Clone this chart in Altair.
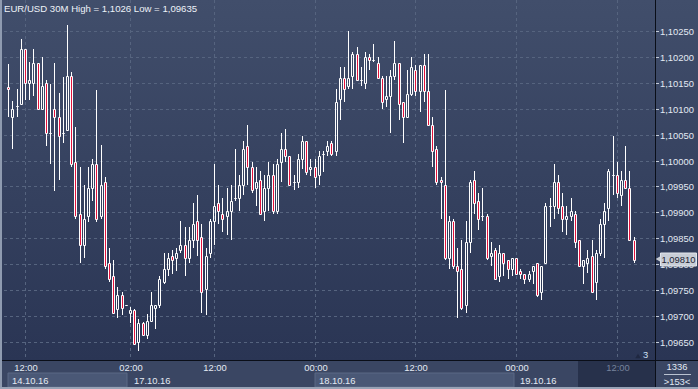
import altair as alt
import pandas as pd

# ---------------- data ----------------
title_text = "EUR/USD 30M High = 1,1026 Low = 1,09635"

opens = [1.10141, 1.10083, 1.10104, 1.10109, 1.10215, 1.10149, 1.10149, 1.10188, 1.10099, 1.10149,
         1.10053, 1.10099, 1.10083, 1.10053, 1.10059, 1.10163, 1.09997, 1.09897, 1.09838, 1.09893,
         1.09947, 1.09994, 1.09893, 1.09958, 1.09803, 1.09778, 1.09714, 1.09742, 1.09722, 1.09707,
         1.09713, 1.09651, 1.09688, 1.09664, 1.09692, 1.09717, 1.09722, 1.09766, 1.09792, 1.09817,
         1.09813, 1.09828, 1.09838, 1.09813, 1.09847, 1.09883, 1.09853, 1.09753, 1.09822, 1.09883,
         1.09918, 1.09897, 1.09893, 1.09903, 1.09928, 1.09928, 1.09953, 1.10028, 1.09988, 1.09947,
         1.09963, 1.09903, 1.09947, 1.09973, 1.09903, 1.09998, 1.10023, 1.10008, 1.09958, 1.09958,
         1.10003, 1.10038, 1.09984, 1.09988, 1.09973, 1.10013, 1.10018, 1.10033, 1.10018, 1.10118,
         1.10159, 1.10143, 1.10163, 1.10204, 1.10154, 1.10149, 1.10199, 1.10194, 1.10188, 1.10159,
         1.10119, 1.10124, 1.10163, 1.10188, 1.10113, 1.10083, 1.10128, 1.10174, 1.10133, 1.10184,
         1.10133, 1.10069, 1.10023, 1.09963, 1.09953, 1.09813, 1.09883, 1.09797, 1.09792, 1.09722,
         1.09843, 1.09963, 1.09923, 1.09893, 1.09893, 1.09817, 1.09828, 1.09777, 1.09822, 1.09808,
         1.09792, 1.09813, 1.09787, 1.09782, 1.09772, 1.09787, 1.09803, 1.09747, 1.09803, 1.09913,
         1.09913, 1.09958, 1.09913, 1.09888, 1.09893, 1.09897, 1.09847, 1.09797, 1.09803, 1.09817,
         1.09767, 1.09822, 1.09878, 1.09908, 1.09973, 1.09973, 1.09933, 1.09963, 1.09947, 1.09847]
highs = [1.10186, 1.10114, 1.10138, 1.10234, 1.10215, 1.10189, 1.10215, 1.10188, 1.10200, 1.10154,
         1.10147, 1.10188, 1.10129, 1.10160, 1.10260, 1.10170, 1.10064, 1.09987, 1.09953, 1.09988,
         1.10003, 1.10135, 1.10029, 1.09969, 1.09832, 1.09808, 1.09756, 1.09748, 1.09722, 1.09718,
         1.09715, 1.09696, 1.09689, 1.09705, 1.09748, 1.09722, 1.09777, 1.09822, 1.09822, 1.09828,
         1.09831, 1.09883, 1.09873, 1.09873, 1.09919, 1.09933, 1.09878, 1.09832, 1.09888, 1.09994,
         1.09953, 1.09928, 1.09947, 1.09953, 1.10023, 1.09973, 1.10038, 1.10069, 1.09998, 1.09988,
         1.09979, 1.09973, 1.09998, 1.09994, 1.10003, 1.10053, 1.10060, 1.10008, 1.09973, 1.10013,
         1.10048, 1.10038, 1.10003, 1.10003, 1.10018, 1.10018, 1.10038, 1.10038, 1.10138, 1.10179,
         1.10179, 1.10250, 1.10209, 1.10219, 1.10179, 1.10209, 1.10204, 1.10224, 1.10199, 1.10163,
         1.10163, 1.10174, 1.10229, 1.10188, 1.10113, 1.10174, 1.10200, 1.10184, 1.10184, 1.10204,
         1.10204, 1.10083, 1.10028, 1.09968, 1.10135, 1.09893, 1.09888, 1.09832, 1.09847, 1.09883,
         1.09963, 1.09979, 1.09938, 1.09947, 1.09897, 1.09843, 1.09832, 1.09838, 1.09822, 1.09808,
         1.09813, 1.09813, 1.09792, 1.09782, 1.09787, 1.09797, 1.09803, 1.09797, 1.09919, 1.09928,
         1.09994, 1.09973, 1.09938, 1.09913, 1.09928, 1.09903, 1.09847, 1.09808, 1.09828, 1.09847,
         1.09827, 1.09888, 1.09918, 1.09984, 1.10048, 1.09998, 1.09979, 1.10028, 1.09979, 1.09853]
lows = [1.10083, 1.10022, 1.10083, 1.10106, 1.10117, 1.10117, 1.10124, 1.10097, 1.10097, 1.10027,
        1.09994, 1.09942, 1.09962, 1.10033, 1.10058, 1.09987, 1.09888, 1.09803, 1.09812, 1.09881,
        1.09923, 1.09881, 1.09888, 1.09792, 1.09766, 1.09705, 1.09697, 1.09702, 1.09722, 1.09687,
        1.09647, 1.09633, 1.09662, 1.09657, 1.09689, 1.09676, 1.09717, 1.09763, 1.09777, 1.09782,
        1.09787, 1.09822, 1.09777, 1.09803, 1.09832, 1.09817, 1.09707, 1.09703, 1.09813, 1.09837,
        1.09878, 1.09862, 1.09857, 1.09847, 1.09923, 1.09903, 1.09933, 1.09953, 1.09937, 1.09913,
        1.09897, 1.09883, 1.09903, 1.09897, 1.09897, 1.09958, 1.09998, 1.09953, 1.09944, 1.09947,
        1.09984, 1.09973, 1.09971, 1.09947, 1.09953, 1.09978, 1.10008, 1.10008, 1.10008, 1.10078,
        1.10113, 1.10138, 1.10138, 1.10152, 1.10143, 1.10138, 1.10174, 1.10189, 1.10159, 1.10099,
        1.10103, 1.10053, 1.10154, 1.10078, 1.10033, 1.10083, 1.10124, 1.10124, 1.10093, 1.10113,
        1.10069, 1.09988, 1.09953, 1.09888, 1.09808, 1.09792, 1.09792, 1.09697, 1.09712, 1.09707,
        1.09822, 1.09897, 1.09867, 1.09883, 1.09808, 1.09797, 1.09772, 1.09767, 1.09777, 1.09772,
        1.09777, 1.09782, 1.09772, 1.09763, 1.09767, 1.09763, 1.09737, 1.09732, 1.09801, 1.09873,
        1.09888, 1.09897, 1.09862, 1.09857, 1.09883, 1.09832, 1.09797, 1.09763, 1.09784, 1.09747,
        1.09732, 1.09817, 1.09813, 1.09883, 1.09933, 1.09928, 1.09913, 1.09947, 1.09847, 1.09803]
closes = [1.10138, 1.10099, 1.10104, 1.10215, 1.10149, 1.10154, 1.10188, 1.10099, 1.10144, 1.10053,
          1.10053, 1.10083, 1.10047, 1.10053, 1.10163, 1.09994, 1.09893, 1.09838, 1.09888, 1.09947,
          1.09994, 1.09888, 1.09953, 1.09797, 1.09772, 1.09707, 1.09742, 1.09717, 1.09722, 1.09713,
          1.09647, 1.09688, 1.09664, 1.09692, 1.09722, 1.09722, 1.09772, 1.09792, 1.09813, 1.09808,
          1.09822, 1.09838, 1.09813, 1.09847, 1.09878, 1.09847, 1.09748, 1.09817, 1.09883, 1.09913,
          1.09903, 1.09888, 1.09903, 1.09923, 1.09928, 1.09953, 1.10023, 1.09988, 1.09944, 1.09958,
          1.09897, 1.09947, 1.09973, 1.09903, 1.09994, 1.10023, 1.10008, 1.09953, 1.09958, 1.10003,
          1.10038, 1.09978, 1.09988, 1.09968, 1.10008, 1.10013, 1.10028, 1.10013, 1.10113, 1.10159,
          1.10138, 1.10159, 1.10204, 1.10154, 1.10154, 1.10199, 1.10194, 1.10194, 1.10159, 1.10113,
          1.10124, 1.10163, 1.10188, 1.10109, 1.10083, 1.10128, 1.10179, 1.10133, 1.10184, 1.10133,
          1.10069, 1.10018, 1.09958, 1.09958, 1.09813, 1.09883, 1.09797, 1.09787, 1.09717, 1.09843,
          1.09958, 1.09918, 1.09888, 1.09893, 1.09813, 1.09822, 1.09772, 1.09822, 1.09803, 1.09792,
          1.09813, 1.09782, 1.09782, 1.09772, 1.09782, 1.09797, 1.09742, 1.09797, 1.09913, 1.09913,
          1.09958, 1.09908, 1.09888, 1.09893, 1.09903, 1.09843, 1.09797, 1.09808, 1.09813, 1.09748,
          1.09822, 1.09878, 1.09903, 1.09979, 1.09973, 1.09938, 1.09963, 1.09947, 1.09847, 1.09808]

price_ticks = [1.0965, 1.0970, 1.0975, 1.0980, 1.0985, 1.0990, 1.0995,
               1.1000, 1.1005, 1.1010, 1.1015, 1.1020, 1.1025]
price_labels = ["1,09650", "1,09700", "1,09750", "1,09800", "1,09850", "1,09900", "1,09950",
                "1,10000", "1,10050", "1,10100", "1,10150", "1,10200", "1,10250"]

time_tick_idx = [5, 30, 50, 74, 98, 122, 146]
time_tick_labels = ["12:00", "02:00", "12:00", "00:00", "12:00", "00:00", "12:00"]
day_start_idx = [1, 30, 74, 122]
day_labels = ["14.10.16", "17.10.16", "18.10.16", "19.10.16"]

last_price = 1.09810
last_price_label = "1,09810"
corner_top = "1336"
corner_bottom = ">153<"
marker_count = "3"

# ---------------- styling ----------------
FONT = "Liberation Sans"
FS = 9.4
RED = "#e3123c"
TXT = "#e4eaf3"
GRID = "#56647f"

n = len(opens)
df = pd.DataFrame({"i": list(range(1, n + 1)), "open": opens, "high": highs,
                   "low": lows, "close": closes})
df["fill"] = [RED if c < o else "transparent" for o, c in zip(opens, closes)]

W, H = 652, 360
xs = alt.Scale(domain=[0.93, 153.92], round=True)
ys = alt.Scale(domain=[1.096163, 1.103087], zero=False, nice=False, round=True)


def grad(c1, c2):
    return alt.LinearGradient(gradient="linear",
                              stops=[alt.GradientStop(color=c1, offset=0),
                                     alt.GradientStop(color=c2, offset=1)],
                              x1=0, x2=0, y1=0, y2=1)


one = pd.DataFrame({"k": [0]})

bg = alt.Chart(one).mark_rect(fill=grad("#414e6b", "#2a3554")).encode(
    x=alt.value(-3), x2=alt.value(695), y=alt.value(0), y2=alt.value(360))
strip = alt.Chart(one).mark_rect(fill="#3a4663").encode(
    x=alt.value(-3), x2=alt.value(695), y=alt.value(360), y2=alt.value(389))

box_df = pd.DataFrame({"s": [day_start_idx[0], day_start_idx[2]],
                       "e": [day_start_idx[1] - 0.6, day_start_idx[3] - 0.6]})
day_boxes = alt.Chart(box_df).mark_rect(fill="#4a5876", stroke="#5b6985", strokeWidth=1).encode(
    x=alt.X("s:Q", scale=xs, axis=None), x2="e:Q", y=alt.value(373), y2=alt.value(387))
dark_box = alt.Chart(one).mark_rect(fill="#27314b").encode(
    x=alt.value(575), x2=alt.value(652), y=alt.value(361), y2=alt.value(387))

pt_df = pd.DataFrame({"p": price_ticks, "lab": price_labels})
hgrid = alt.Chart(pt_df).mark_rule(stroke=GRID, strokeDash=[3, 3], strokeWidth=1, yOffset=0.5).encode(
    y=alt.Y("p:Q", scale=ys, axis=None))
tt_df = pd.DataFrame({"i": time_tick_idx, "lab": time_tick_labels,
                      "col": [TXT] * (len(time_tick_idx) - 1) + ["#76839c"]})
vgrid = alt.Chart(tt_df).mark_rule(stroke=GRID, strokeDash=[3, 3], strokeWidth=1, xOffset=0.5).encode(
    x=alt.X("i:Q", scale=xs, axis=None), y=alt.value(0), y2=alt.value(360))

base = alt.Chart(df).transform_calculate(
    top="max(datum.open, datum.close)", bot="min(datum.open, datum.close)")
wick_hi = base.mark_rule(color="white", strokeWidth=1, xOffset=0.5).encode(
    x=alt.X("i:Q", scale=xs, axis=None), y=alt.Y("high:Q", scale=ys, axis=None), y2="top:Q")
wick_lo = base.mark_rule(color="white", strokeWidth=1, xOffset=0.5).encode(
    x=alt.X("i:Q", scale=xs, axis=None), y=alt.Y("bot:Q", scale=ys, axis=None), y2="low:Q")
bodies = base.mark_bar(width=2, stroke="white", strokeWidth=1, xOffset=0.5,
                       yOffset=0.5, y2Offset=0.5).encode(
    x=alt.X("i:Q", scale=xs, axis=None), y=alt.Y("top:Q", scale=ys, axis=None), y2="bot:Q",
    fill=alt.Fill("fill:N", scale=None))

hline = alt.Chart(one).mark_rule(stroke="#0a0e18", strokeWidth=1).encode(
    y=alt.value(360.5), x=alt.value(-3), x2=alt.value(695))
vline = alt.Chart(one).mark_rule(stroke="#0a0e18", strokeWidth=1).encode(
    x=alt.value(652.5), y=alt.value(0), y2=alt.value(389))
left_border = alt.Chart(one).mark_rect(fill="#8f9bb0").encode(
    x=alt.value(-3), x2=alt.value(-1), y=alt.value(0), y2=alt.value(389))
bottom_border = alt.Chart(one).mark_rect(fill="#98a3b6").encode(
    x=alt.value(-3), x2=alt.value(695), y=alt.value(387), y2=alt.value(389))

rticks = alt.Chart(pt_df).mark_rule(stroke="#c3cbd8", strokeWidth=1, yOffset=0.5).encode(
    y=alt.Y("p:Q", scale=ys, axis=None), x=alt.value(653), x2=alt.value(656))
ylabels = alt.Chart(pt_df).mark_text(align="left", baseline="middle", font=FONT, fontSize=FS,
                                     color=TXT, dy=0.5).encode(
    y=alt.Y("p:Q", scale=ys, axis=None), x=alt.value(657), text="lab:N")

tag_df = pd.DataFrame({"p": [last_price], "lab": [last_price_label]})
tag_box = alt.Chart(tag_df).mark_rect(fill="#c8cdd6", stroke="#e2e6ec", strokeWidth=1,
                                      yOffset=-6, y2Offset=7).encode(
    y=alt.Y("p:Q", scale=ys, axis=None), y2="p:Q", x=alt.value(657.5), x2=alt.value(693.5))
tag_arrow = alt.Chart(tag_df).mark_point(shape="triangle-left", filled=True, size=28,
                                         color="#c8cdd6", opacity=1).encode(
    y=alt.Y("p:Q", scale=ys, axis=None), x=alt.value(655))
tag_text = alt.Chart(tag_df).mark_text(align="left", baseline="middle", font=FONT, fontSize=FS,
                                       color="#1b2233", dy=0.5).encode(
    y=alt.Y("p:Q", scale=ys, axis=None), x=alt.value(658.5), text="lab:N")

title = alt.Chart(one).mark_text(align="left", baseline="alphabetic", font=FONT, fontSize=9.6,
                                 color="#eef2f8").encode(
    x=alt.value(1), y=alt.value(12), text=alt.value(title_text))

tlabels = alt.Chart(tt_df).mark_text(align="center", baseline="middle", font=FONT, fontSize=FS,
                                     dx=1).encode(
    x=alt.X("i:Q", scale=xs, axis=None), y=alt.value(368), text="lab:N",
    color=alt.Color("col:N", scale=None))
dd_df = pd.DataFrame({"i": day_start_idx, "lab": day_labels})
dlabels = alt.Chart(dd_df).mark_text(align="left", baseline="middle", font=FONT, fontSize=FS,
                                     dx=4, color=TXT).encode(
    x=alt.X("i:Q", scale=xs, axis=None), y=alt.value(380.5), text="lab:N")

c_top = alt.Chart(one).mark_text(align="center", baseline="middle", font=FONT, fontSize=FS,
                                 color=TXT).encode(x=alt.value(674), y=alt.value(367),
                                                   text=alt.value(corner_top))
c_line = alt.Chart(one).mark_rule(stroke="#b9c2d0", strokeWidth=1).encode(
    y=alt.value(374.5), x=alt.value(661), x2=alt.value(688))
c_bot = alt.Chart(one).mark_text(align="center", baseline="middle", font=FONT, fontSize=FS,
                                 color=TXT).encode(x=alt.value(674), y=alt.value(381.5),
                                                   text=alt.value(corner_bottom))
m_tri = alt.Chart(one).mark_point(shape="triangle-up", filled=True, size=30, color="#1f2841",
                                  opacity=1).encode(x=alt.value(635), y=alt.value(356))
m_txt = alt.Chart(one).mark_text(align="left", baseline="middle", font=FONT, fontSize=FS,
                                 color="#cfe0f5").encode(x=alt.value(640), y=alt.value(355),
                                                         text=alt.value(marker_count))

chart = alt.layer(
    bg, strip, day_boxes, dark_box, hgrid, vgrid, wick_hi, wick_lo, bodies,
    hline, vline, left_border, bottom_border, rticks, ylabels,
    tag_box, tag_arrow, tag_text, title, tlabels, dlabels, c_top, c_line, c_bot, m_tri, m_txt
).properties(
    width=W, height=H,
    padding={"left": 3, "top": 0, "right": 43, "bottom": 29},
    autosize=alt.AutoSizeParams(type="none"),
).configure(background="#303c59").configure_view(strokeWidth=0)

chart.save("out.html", embed_options={"renderer": "svg", "actions": False})
